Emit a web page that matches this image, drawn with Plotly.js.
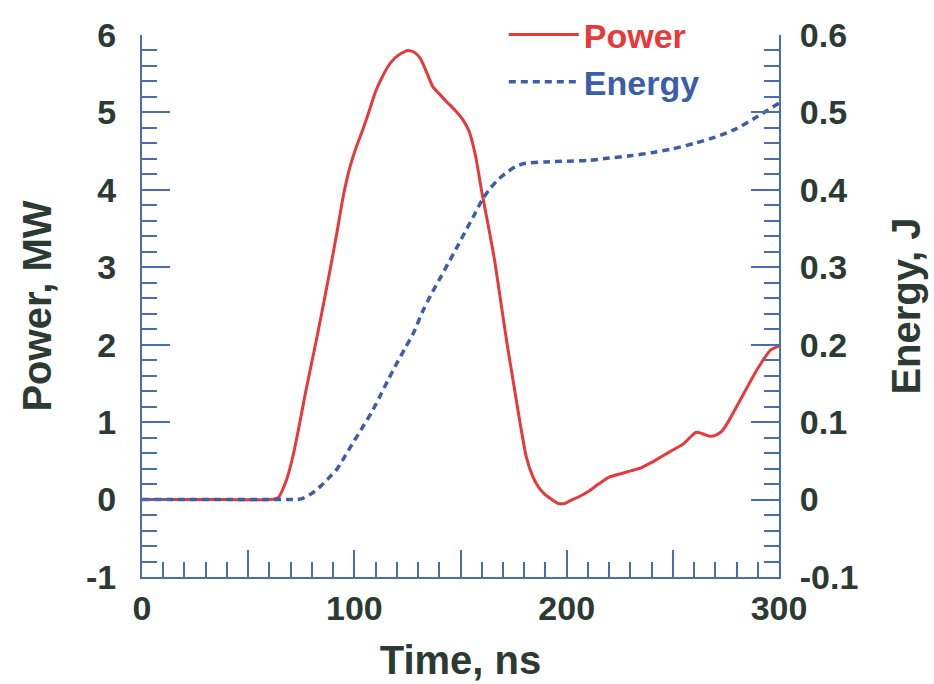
<!DOCTYPE html>
<html>
<head>
<meta charset="utf-8">
<script src="https://cdn.plot.ly/plotly-3.0.1.min.js"></script>
<style>html,body{margin:0;padding:0;background:#fff;}#chart{width:934px;height:684px;}</style>
</head>
<body>
<div id="chart"></div>
<script>
// Time axis values (ns) and series
const powerTime = [0,20,40,60,64,68,71,74,77,80,83,86,89,92,95,98,101,104,107,110,113,116,119,122,125,128,131,134,137,140,143,147,151,154,157,160,163,166,169,172,175,178,181,184,187,190,193,196,199,202,206,210,215,220,225,230,235,240,245,250,255,258,261,264,267,270,273,276,280,284,288,292,296,300];
const powerMW = [0,0,0,0,0.02,0.25,0.55,0.95,1.38,1.78,2.18,2.6,3.03,3.48,3.95,4.3,4.56,4.78,5.02,5.27,5.45,5.6,5.7,5.76,5.8,5.78,5.7,5.52,5.33,5.24,5.15,5.04,4.91,4.76,4.45,3.98,3.55,3.1,2.55,2.0,1.5,1.0,0.55,0.3,0.15,0.06,0.0,-0.05,-0.05,-0.01,0.04,0.1,0.2,0.29,0.33,0.37,0.41,0.48,0.56,0.64,0.72,0.8,0.87,0.85,0.82,0.83,0.88,1.0,1.2,1.4,1.6,1.78,1.93,1.98];

const energyTime = [0,20,40,60,70,73,76,80,84,88,92,96,100,104,108,112,116,120,124,128,132,136,140,144,148,152,156,160,164,168,172,176,180,190,200,210,220,230,240,250,260,270,280,290,300];
const energyJ = [0,0,0,0,0,0,0.002,0.008,0.017,0.028,0.04,0.058,0.076,0.094,0.112,0.133,0.155,0.176,0.196,0.216,0.242,0.264,0.284,0.304,0.324,0.345,0.365,0.386,0.402,0.414,0.423,0.43,0.434,0.436,0.437,0.438,0.441,0.444,0.448,0.453,0.46,0.468,0.479,0.495,0.512];

const xTickVals = [0,50,100,150,200,250,300];
const xTickText = ['0','','100','','200','','300'];
const powerTicks = [-1,0,1,2,3,4,5,6];
const powerTickText = ['-1','0','1','2','3','4','5','6'];
const energyTicks = [-0.1,0,0.1,0.2,0.3,0.4,0.5,0.6];
const energyTickText = ['-0.1','0','0.1','0.2','0.3','0.4','0.5','0.6'];

const RED = '#e8393a';
const BLUE = '#3b5ea8';
const AXIS = '#4a6cb3';
const TXT = '#2b3a33';
const FONT = 'Liberation Sans, Arial, sans-serif';

const traces = [
  {x: powerTime, y: powerMW, type: 'scatter', mode: 'lines', name: '<span style="color:' + RED + '">Power</span>',
   line: {color: RED, width: 3, shape: 'spline', smoothing: 0.6}, yaxis: 'y'},
  {x: energyTime, y: energyJ, type: 'scatter', mode: 'lines', name: '<span style="color:' + BLUE + '">Energy</span>',
   line: {color: BLUE, width: 3.5, dash: '7px,5px', shape: 'spline', smoothing: 0.6}, yaxis: 'y2'}
];

const layout = {
  width: 934, height: 684,
  paper_bgcolor: '#fff', plot_bgcolor: '#fff',
  margin: {l: 142, r: 155, t: 35, b: 107, autoexpand: false},
  font: {family: FONT, color: TXT, size: 34, weight: 'bold'},
  showlegend: true,
  legend: {x: 0.568, y: 1.0535, xanchor: 'left', yanchor: 'top', bgcolor: 'rgba(0,0,0,0)',
    font: {family: FONT, size: 34, weight: 'bold'}, itemwidth: 70, tracegroupgap: 0},
  xaxis: {
    range: [0, 300], showgrid: false, zeroline: false,
    showline: true, linecolor: AXIS, linewidth: 2, mirror: false,
    tickmode: 'array', tickvals: xTickVals, ticktext: xTickText,
    ticks: 'inside', ticklen: 27, tickwidth: 2, tickcolor: AXIS,
    minor: {dtick: 10, tick0: 0, ticks: 'inside', ticklen: 15, tickwidth: 2, tickcolor: AXIS},
    tickfont: {family: FONT, size: 34, color: TXT, weight: 'bold'},
    ticklabelstandoff: 0,
    title: {text: 'Time, ns', font: {family: FONT, size: 40, color: TXT, weight: 'bold'}, standoff: 20}
  },
  yaxis: {
    range: [-1, 6], showgrid: false, zeroline: false,
    showline: true, linecolor: AXIS, linewidth: 2,
    tickmode: 'array', tickvals: powerTicks, ticktext: powerTickText,
    ticks: 'inside', ticklen: 28, tickwidth: 2, tickcolor: AXIS,
    minor: {dtick: 0.2, tick0: 0, ticks: 'inside', ticklen: 15, tickwidth: 2, tickcolor: AXIS},
    tickfont: {family: FONT, size: 34, color: TXT, weight: 'bold'},
    ticklabelstandoff: 17,
    title: {text: 'Power, MW', font: {family: FONT, size: 40, color: TXT, weight: 'bold'}, standoff: 22}
  },
  yaxis2: {
    range: [-0.1, 0.6], overlaying: 'y', side: 'right', showgrid: false, zeroline: false,
    showline: true, linecolor: AXIS, linewidth: 2,
    tickmode: 'array', tickvals: energyTicks, ticktext: energyTickText,
    ticks: 'inside', ticklen: 28, tickwidth: 2, tickcolor: AXIS,
    minor: {dtick: 0.02, tick0: 0, ticks: 'inside', ticklen: 15, tickwidth: 2, tickcolor: AXIS},
    tickfont: {family: FONT, size: 34, color: TXT, weight: 'bold'},
    ticklabelstandoff: 12,
    title: {text: 'Energy, J', font: {family: FONT, size: 40, color: TXT, weight: 'bold'}, standoff: 35}
  }
};

Plotly.newPlot('chart', traces, layout, {staticPlot: true, displayModeBar: false});
</script>
</body>
</html>
